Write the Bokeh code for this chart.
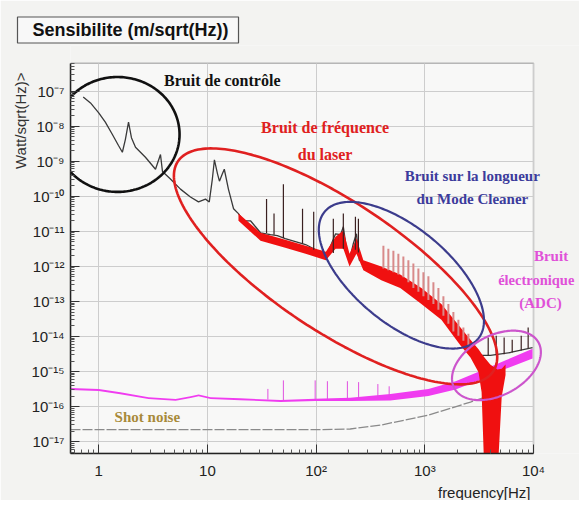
import numpy as np
from bokeh.plotting import figure
from bokeh.models import Label, Title, FixedTicker, CustomJSTickFormatter, Range1d, BoxAnnotation
from bokeh.embed import file_html
from bokeh.resources import INLINE

# ---------------- data ----------------
# full sensitivity curve (Hz, W/sqrt(Hz))
sens_f = [0.72, 0.84, 1.0, 1.15, 1.34, 1.52, 1.65, 1.76, 1.88, 2.0, 2.18, 2.69, 3.33, 3.7, 3.86,
          4.57, 5.65, 6.98, 8.28, 9.6, 10.4, 11.1, 11.6, 12.4, 12.9, 13.7, 14.3, 15.6, 17.4, 19.3,
          21.5, 24.9, 27.7, 30.8, 38, 44, 52, 64.5, 80, 103, 127, 151, 168, 178, 190, 203, 220,
          235, 250, 284, 352, 416, 537, 785, 1127, 1615, 2265, 2800, 3250, 4020, 4660, 6140, 9800]
sens_v = [6.8e-8, 4.6e-8, 2.4e-8, 1.3e-8, 5.7e-9, 2.8e-9, 1.8e-9, 4.2e-9, 1.3e-8, 4.7e-9, 2.5e-9,
          1.3e-9, 5.9e-10, 1.55e-9, 5.1e-10, 3.1e-10, 1.6e-10, 9.5e-11, 6.9e-11, 8.3e-11, 6.9e-11,
          3.1e-10, 1.1e-9, 4.3e-10, 2.7e-10, 4.3e-10, 5.9e-10, 1.6e-10, 4.4e-11, 3.2e-11, 2.0e-11,
          2.0e-11, 1.35e-11, 9.1e-12, 8.0e-12, 7.5e-12, 6.2e-12, 5.1e-12, 4.2e-12, 2.8e-12, 2.3e-12,
          8.5e-12, 8.0e-12, 1.35e-11, 3.2e-12, 1.5e-12, 4.5e-12, 8.5e-12, 1.5e-12, 1.15e-12,
          8.7e-13, 7.7e-13, 5.6e-13, 1.95e-13, 1.0e-13, 2.5e-14, 9.3e-15, 4.3e-15, 2.9e-15, 2.9e-15,
          3.1e-15, 3.5e-15, 4.8e-15]

# laser frequency noise band (red)
red_f = [19.3, 30.8, 52, 80, 123, 151, 178, 203, 235, 272, 398, 594, 930, 1420, 2130, 2630,
         3120, 3330, 3540, 4000, 4660, 5100, 5530]
red_hi = [3.2e-11, 9.1e-12, 5.8e-12, 3.9e-12, 2.6e-12, 7.0e-12, 1.05e-11, 2.3e-12, 6.2e-12,
          1.5e-12, 1.0e-12, 5.9e-13, 2.4e-13, 8.5e-14, 1.8e-14, 8.1e-15, 4.3e-15, 3.2e-15,
          2.5e-15, 1.6e-15, 1.15e-15, 1.2e-15, 1.6e-15]
red_lo = [2.0e-11, 5.4e-12, 3.4e-12, 2.3e-12, 1.5e-12, 3.2e-12, 3.2e-12, 1.0e-12, 2.3e-12,
          7.7e-13, 4.0e-13, 2.4e-13, 8.5e-14, 3.0e-14, 5.5e-15, 2.5e-15, 9.5e-16, 2.6e-16,
          1e-18, 1e-18, 1e-18, 1.9e-16, 8.0e-16]

# electronic noise (ADC) band (magenta)
adc_f = [0.55, 1.0, 1.58, 2.87, 5.1, 7.0, 8.3, 10.7, 20, 47, 98, 206, 482, 1080, 1920, 3250, 5550, 9800]
adc_hi = [3.4e-16, 3.2e-16, 2.55e-16, 1.85e-16, 1.65e-16, 1.96e-16, 2.23e-16, 1.85e-16, 1.72e-16,
          1.55e-16, 1.67e-16, 1.8e-16, 2.3e-16, 3.2e-16, 5.3e-16, 1.04e-15, 2.1e-15, 4.5e-15]
adc_lo = [3.0e-16, 2.8e-16, 2.25e-16, 1.64e-16, 1.46e-16, 1.75e-16, 1.98e-16, 1.64e-16, 1.53e-16,
          1.36e-16, 1.44e-16, 1.45e-16, 1.5e-16, 2.0e-16, 3.1e-16, 5.8e-16, 1.2e-15, 2.35e-15]
adc_spk_f = [36, 50, 98, 127, 194, 246, 370, 470]
adc_spk_hi = [3.2e-16, 5.6e-16, 5.6e-16, 5.3e-16, 5.3e-16, 5.0e-16, 4.4e-16, 3.8e-16]
adc_spk_lo = [1.6e-16, 1.5e-16, 1.6e-16, 1.6e-16, 1.7e-16, 1.7e-16, 1.9e-16, 2.0e-16]

# shot noise
shot_f = [0.55, 98, 206, 398, 1080, 2630, 4950]
shot_v = [2.2e-17, 2.2e-17, 2.3e-17, 3.0e-17, 5.7e-17, 1.35e-16, 2.6e-16]

# lines (spikes) of the sensitivity curve
spk_f = [35, 41, 50, 75, 95, 144, 178, 230, 245, 3830, 4540, 5370, 6370, 7710, 8930]
spk_lo = [9e-12, 8e-12, 6.5e-12, 4.4e-12, 3e-12, 2.4e-12, 3.2e-12, 3e-12, 2.5e-12,
          2.9e-15, 2.9e-15, 3.1e-15, 3.5e-15, 4.0e-15, 4.6e-15]
spk_hi = [8.3e-11, 3.2e-11, 2.2e-10, 4.4e-11, 3.6e-11, 2.3e-11, 3.2e-11, 2.6e-11, 2.3e-11,
          9.3e-15, 1.05e-14, 9.3e-15, 8.1e-15, 1.05e-14, 1.8e-14]

# comb of lines above the laser band
comb_f = [416, 462, 514, 571, 635, 706, 785, 873, 971, 1079, 1200, 1334, 1483, 1648, 1832, 2037, 2265, 2518]
comb_hi = [3.9e-12, 3.2e-12, 2.8e-12, 2.3e-12, 1.9e-12, 1.5e-12, 1.2e-12, 8.7e-13, 6.8e-13, 5.2e-13,
           3.5e-13, 2.4e-13, 1.4e-13, 8.5e-14, 5.0e-14, 3.0e-14, 1.8e-14, 1.2e-14]
comb_lo = [8.7e-13, 7.7e-13, 6.8e-13, 5.9e-13, 4.9e-13, 3.5e-13, 2.4e-13, 1.9e-13, 1.4e-13, 1.1e-13,
           8.5e-14, 5.8e-14, 3.9e-14, 2.3e-14, 1.4e-14, 1.05e-14, 7.6e-15, 5.5e-15]

x_ticks = [1, 10, 100, 1000, 10000]
y_ticks = [1e-17, 1e-16, 1e-15, 1e-14, 1e-13, 1e-12, 1e-11, 1e-10, 1e-9, 1e-8, 1e-7]

assert len(sens_f) == len(sens_v)
assert len(red_f) == len(red_hi) == len(red_lo)
assert len(adc_f) == len(adc_hi) == len(adc_lo)

# ---------------- geometry ----------------
X0, XB = 0.55, 1e4          # visible axes box, x
Y0, YB = 4.6e-18, 6.2e-7    # visible axes box, y
W, H = 579, 500
BL, BB, BT = 70, 43, 45
BOX_W, BOX_H = 463, 394     # axes box size in px
EXTRA_R = W - BL - BOX_W    # frame continues to the right of the box
EXTRA_T = H - BB - BT - BOX_H   # and a little above it
pxdx = BOX_W / np.log10(XB / X0)
pxdy = BOX_H / np.log10(YB / Y0)
XF1 = XB * 10 ** (EXTRA_R / pxdx)
YF1 = YB * 10 ** (EXTRA_T / pxdy)

p = figure(width=W, height=H, x_axis_type="log", y_axis_type="log",
           x_range=Range1d(X0, XF1), y_range=Range1d(Y0, YF1),
           output_backend="svg", toolbar_location=None,
           min_border_left=BL, min_border_right=0, min_border_top=BT, min_border_bottom=BB)
p.background_fill_color = "#f3f3f1"
p.border_fill_color = "#f3f3f1"
p.outline_line_color = None

p.title = Title(text="Sensibilite (m/sqrt(Hz))", align="left", offset=-53, standoff=5,
                text_font="Liberation Sans", text_font_size="18px", text_font_style="bold",
                text_color="#111111", border_line_color="#555555", border_line_width=1.2,
                background_fill_color="#f8f8f8",
                padding=dict(left=15, right=10, top=3, bottom=3))

# the axes box (background + frame)
p.add_layout(BoxAnnotation(left=X0, right=XB, bottom=Y0, top=YB, level="image",
                           fill_color="#f8f8f7", fill_alpha=1,
                           line_color="#222222", line_width=1.5))

minor_x = [m * d for d in [0.1, 1, 10, 100, 1000] for m in range(2, 10) if X0 <= m * d <= XB]
minor_y = [m * d for d in [1e-18, 1e-17, 1e-16, 1e-15, 1e-14, 1e-13, 1e-12, 1e-11, 1e-10, 1e-9, 1e-8, 1e-7]
           for m in range(2, 10) if Y0 <= m * d <= YB]
p.xaxis.ticker = FixedTicker(ticks=x_ticks, minor_ticks=minor_x)
p.yaxis.ticker = FixedTicker(ticks=y_ticks, minor_ticks=minor_y)
p.xaxis.bounds = (X0, XB)
p.yaxis.bounds = (Y0, YB)

fmt_code = """
const sup = {"-": "\u207b", "0": "\u2070", "1": "\u00b9", "2": "\u00b2", "3": "\u00b3",
             "4": "\u2074", "5": "\u2075", "6": "\u2076", "7": "\u2077", "8": "\u2078", "9": "\u2079"};
const e = Math.round(Math.log10(tick));
if (e == 0) return "1";
if (e == 1) return "10";
return "10" + String(e).split("").map(c => sup[c]).join("");
"""
for ax in (p.xaxis, p.yaxis):
    ax.formatter = CustomJSTickFormatter(code=fmt_code)
    ax.major_label_text_font = "Liberation Sans"
    ax.major_label_text_font_size = "15px"
    ax.major_label_text_color = "#222222"
    ax.axis_line_color = "#222222"
    ax.axis_line_width = 1.5
    ax.major_tick_in = 9
    ax.major_tick_out = 0
    ax.minor_tick_in = 4
    ax.minor_tick_out = 0
    ax.major_tick_line_color = "#333333"
    ax.minor_tick_line_color = "#555555"
p.xaxis.major_label_standoff = 8
p.yaxis.major_label_standoff = 6

p.xgrid.grid_line_color = "#cdcdcd"
p.ygrid.grid_line_color = "#cdcdcd"
p.xgrid.cross_bounds = (Y0, YB)
p.ygrid.cross_bounds = (X0, XB)

# ---------------- curves ----------------
p.line(shot_f, shot_v, line_color="#8a8a8a", line_width=1.3, line_dash="10 2")
p.varea(x=adc_f, y1=adc_lo, y2=adc_hi, fill_color="#f03cf0")
p.segment(x0=adc_spk_f, x1=adc_spk_f, y0=adc_spk_lo, y1=adc_spk_hi, line_color="#e050e0", line_width=1)
p.line(sens_f, sens_v, line_color="#3a3a3a", line_width=1.3)
p.varea(x=red_f, y1=red_lo, y2=red_hi, fill_color="#f01010")
p.segment(x0=comb_f, x1=comb_f, y0=comb_lo, y1=comb_hi, line_color="#d88a8a", line_width=2)
p.segment(x0=spk_f, x1=spk_f, y0=spk_lo, y1=spk_hi, line_color="#3a2020", line_width=1.2)

# ---------------- annotation ellipses ----------------
ellipses = [
    # centre f, centre v, semi-axes (px), angle (deg, clockwise), colour, width
    (1.49, 5.8e-9, 62, 58, 0, "#111111", 2.6),
    (151, 1.0e-12, 190, 65, 34, "#e02020", 2.6),
    (609, 5.6e-13, 100, 48, 40, "#3c3c8c", 2.2),
    (4560, 1.5e-15, 48, 30, -29, "#cc55cc", 2.2),
]
t = np.linspace(0, 2 * np.pi, 240)
for fc, vc, a, b, ang, col, lw in ellipses:
    th = np.radians(ang)
    dx = a * np.cos(t) * np.cos(th) - b * np.sin(t) * np.sin(th)
    dy = a * np.cos(t) * np.sin(th) + b * np.sin(t) * np.cos(th)
    p.line(fc * 10 ** (dx / pxdx), vc * 10 ** (-dy / pxdy), line_color=col, line_width=lw)

# ---------------- texts ----------------
def lab(x, y, text, color, size="16px", font="Liberation Serif", style="bold", align="center", **kw):
    p.add_layout(Label(x=x, y=y, text=text, text_color=color, text_font=font,
                       text_font_size=size, text_font_style=style, text_align=align,
                       text_baseline="middle", **kw))

lab(13.7, 2.0e-7, "Bruit de contrôle", "#111111")
lab(121, 9.0e-9, "Bruit de fréquence", "#e02020")
lab(121, 1.55e-9, "du laser", "#e02020")
lab(2740, 3.7e-10, "Bruit sur la longueur", "#3c3c9c", size="15px")
lab(2740, 8.4e-11, "du Mode Cleaner", "#3c3c9c", size="15px")
lab(14500, 2.0e-12, "Bruit", "#e050d8", size="15px")
lab(10600, 4.0e-13, "électronique", "#e050d8", size="14.5px")
lab(11600, 8.9e-14, "(ADC)", "#e050d8", size="15px")
lab(2.8, 5.1e-17, "Shot noise", "#a88a3a", size="15px")

p.add_layout(Title(text="frequency[Hz]", align="right", offset=49, standoff=0,
                   text_font="Liberation Sans", text_font_size="15px", text_font_style="normal",
                   text_color="#222222"), "below")
p.add_layout(Title(text="Watt/sqrt(Hz)>", align="right", offset=27, standoff=0,
                   text_font="Liberation Sans", text_font_size="15px", text_font_style="normal",
                   text_color="#333333"), "left")

open("out.html", "w").write(file_html(p, INLINE))
